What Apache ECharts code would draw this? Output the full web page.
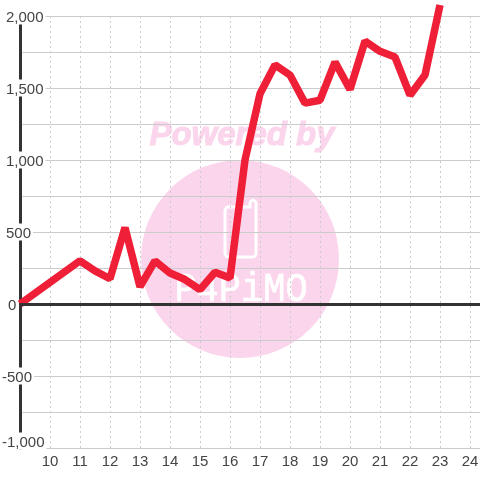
<!DOCTYPE html>
<html><head><meta charset="utf-8">
<style>html,body{margin:0;padding:0;background:#fff}#c{width:480px;height:480px}</style>
<script src="https://cdn.jsdelivr.net/npm/echarts@6/dist/echarts.min.js"></script>
</head><body><div id="c"></div>
<script>
const hours = [9,11,11.5,12,12.5,13,13.5,14,14.5,15,15.5,16,16.5,17,17.5,18,18.5,19,19.5,20,20.5,21,21.5,22,22.5,23];
const values = [0,300,230,175,530,120,300,215,170,100,220,180,1000,1460,1660,1590,1395,1415,1680,1490,1825,1755,1715,1450,1590,2076];
const yMin = -1000, yMax = 2000, yStep = 250, labelStep = 500;
const xMin = 9, xMax = 24.3334, xStep = 1;
const watermarkTop = 'Powered by';
const watermarkBottom = 'P4PiMO';

const pink = '#fbd5ec';
const chart = echarts.init(document.getElementById('c'), null, {renderer:'canvas'});
const fmt = v => Math.abs(v).toLocaleString('en-US');
const txt = {fontFamily:'Liberation Sans', fontSize:15, color:'#444', backgroundColor:'#fff', lineHeight:14, height:14};
chart.setOption({
  animation:false,
  backgroundColor:'#fff',
  grid:{left:20, right:0, top:16, bottom:32, containLabel:false, outerBoundsMode:'none'},
  graphic:{elements:[
    {type:'circle', z:-10, silent:true, shape:{cx:240,cy:259,r:99}, style:{fill:pink}},
    {type:'text', z:-10, silent:true, x:242, y:136, style:{text:watermarkTop, font:'italic bold 33px "Liberation Sans"', fill:pink, stroke:pink, lineWidth:1, align:'center', verticalAlign:'middle'}},
    {type:'polygon', z:-9, silent:true, shape:{points:[[228,207],[250,207],[250,203],[251,201],[253,200],[255,201],[256,203],[256,254],[255,256],[253,257],[228,257],[226,256],[225,254],[225,210],[226,208]]}, style:{fill:'none', stroke:'#fff', lineWidth:3}},
    {type:'text', z:-9, silent:true, x:241, y:290, scaleY:1.12, style:{text:watermarkBottom, font:'37px "Liberation Mono"', fill:'#fff', stroke:'#fff', lineWidth:0.6, align:'center', verticalAlign:'middle'}}
  ]},
  xAxis:{type:'value', min:xMin, max:xMax, interval:xStep,
    axisLine:{show:false}, axisTick:{show:false},
    axisLabel:{showMinLabel:false, showMaxLabel:false, margin:6, fontFamily:'Liberation Sans', fontSize:15, color:'#444', formatter:v=>String(v)},
    splitLine:{show:true, showMinLine:false, showMaxLine:false, lineStyle:{color:'#ccc', width:1, type:[2,3]}}
  },
  yAxis:{type:'value', min:yMin, max:yMax, interval:yStep,
    axisLine:{show:true, onZero:false, lineStyle:{color:'#333', width:3}}, axisTick:{show:false},
    axisLabel:{align:'left', margin:18, verticalAlignMinLabel:'bottom',
      formatter:v=>{
        if (v % labelStep !== 0) return '';
        if (v === 0) return '{zero|0}';
        return (v < 0 ? '{neg|-' : '{pos|') + fmt(v) + '}';
      },
      rich:{
        pos:Object.assign({}, txt, {padding:[3,2,0,4]}),
        neg:Object.assign({}, txt, {padding:[3,2,0,0]}),
        zero:Object.assign({}, txt, {padding:[3,2,0,6]})
      }
    },
    splitLine:{show:true, lineStyle:{color:'#ccc', width:1}}
  },
  series:[
    {name:'baseline', type:'line', z:1, data:[], silent:true, markLine:{silent:true, symbol:'none', animation:false, label:{show:false}, lineStyle:{color:'#333', width:3, type:'solid'}, data:[{yAxis:0}]}},
    {name:'value', type:'line', z:2, clip:false, symbol:'none', smooth:false,
     lineStyle:{color:'#ee1f37', width:7.5, cap:'butt', join:'bevel'},
     data:hours.map((h,i)=>[h,values[i]])}
  ]
});
</script></body></html>
